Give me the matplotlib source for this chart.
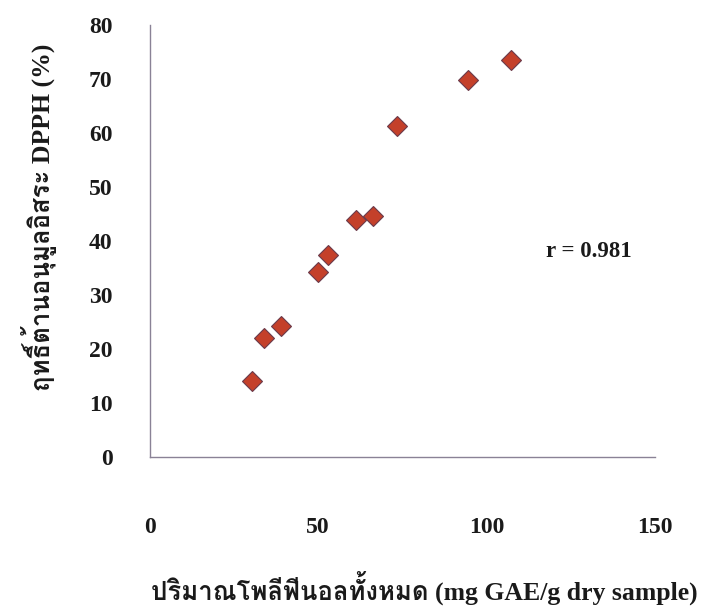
import matplotlib
matplotlib.use("Agg")
import matplotlib.pyplot as plt
from matplotlib import font_manager
from matplotlib.ft2font import FT2Font

# ---- data ----
phenol = [30.4, 33.8, 39.0, 50.0, 52.9, 61.3, 66.4, 73.3, 94.4, 107.4]
dpph = [14.1, 22.0, 24.3, 34.3, 37.4, 44.0, 44.6, 61.3, 69.8, 73.6]
xticks = [0, 50, 100, 150]
yticks = [0, 10, 20, 30, 40, 50, 60, 70, 80]
xlabel = "ปริมาณโพลีฟีนอลทั้งหมด (mg GAE/g dry sample)"
ylabel = "ฤทธิ์ต้านอนุมูลอิสระ DPPH (%)"
r_text = "r = 0.981"

# find an installed family that covers Thai
thai_fams = []
for f in font_manager.fontManager.ttflist:
    try:
        cm = FT2Font(f.fname).get_charmap()
        if ord("ป") in cm and ord("ฤ") in cm:
            if f.name not in thai_fams:
                thai_fams.append(f.name)
    except Exception:
        pass

fams = ["Liberation Serif"] + thai_fams + ["DejaVu Sans"]
plt.rcParams["font.family"] = fams

fig = plt.figure(figsize=(7.04, 6.09), dpi=100)
ax = fig.add_axes([0.213, 0.2496, 0.717, 0.709])

ax.plot(phenol, dpph, linestyle="none", marker="D", markersize=10,
        markerfacecolor="#c4402a", markeredgecolor="#6a3a4a", markeredgewidth=0.8)

ax.set_xlim(0, 150)
ax.set_ylim(0, 80)
ax.set_xticks(xticks)
ax.set_yticks(yticks)
for s in ["top", "right"]:
    ax.spines[s].set_visible(False)
for s in ["left", "bottom"]:
    ax.spines[s].set_color("#8a8296")
    ax.spines[s].set_linewidth(1.0)

ax.tick_params(axis="both", length=0, labelsize=17)
ax.tick_params(axis="x", pad=43)
ax.tick_params(axis="y", pad=27)
for lab in ax.get_xticklabels() + ax.get_yticklabels():
    lab.set_fontweight("bold")
    lab.set_color("#1a1a1a")

ax.set_xlabel(xlabel, fontsize=18.5, fontweight="bold", color="#1a1a1a")
ax.xaxis.set_label_coords(0.543, -0.266)
ax.set_ylabel(ylabel, fontsize=18.5, fontweight="bold", color="#1a1a1a")
ax.yaxis.set_label_coords(-0.184, 0.556)

ax.text(130.4, 38.1, r_text, fontsize=16.5, fontweight="bold", ha="center", va="center",
        color="#1a1a1a")

fig.savefig("out.png", dpi=100)
